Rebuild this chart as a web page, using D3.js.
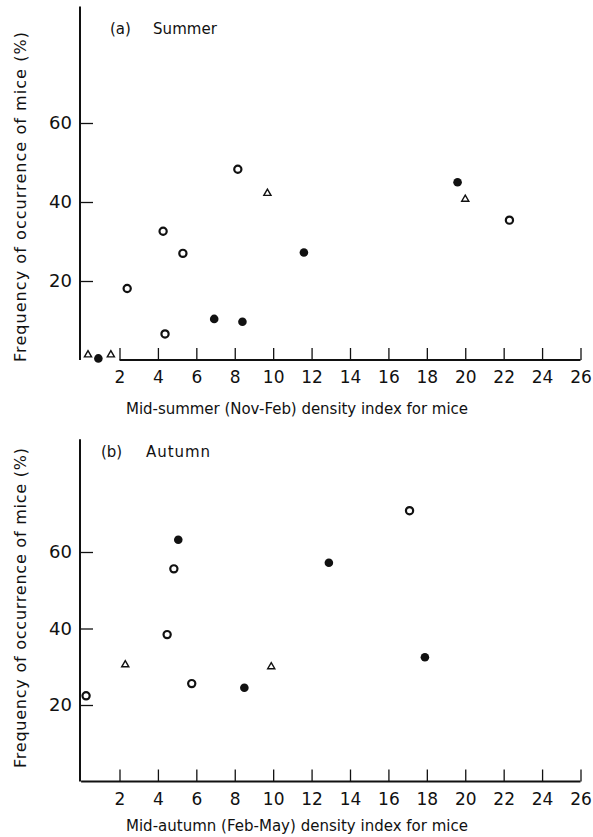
<!DOCTYPE html>
<html>
<head>
<meta charset="utf-8">
<script src="https://cdn.jsdelivr.net/npm/d3@7"></script>
<style>
  body { margin: 0; background: #fff; }
  svg text { font-family: "DejaVu Sans", "Liberation Sans", sans-serif; fill: #111; }
</style>
</head>
<body>
<svg id="chart" width="593" height="837"></svg>
<script>
// x ticks shared by both panels
const xTicks = [2, 4, 6, 8, 10, 12, 14, 16, 18, 20, 22, 24, 26];
const yTicks = [20, 40, 60];

// (a) Summer  [density index, frequency %]
const summerOpen   = [[2.4, 18.1], [4.27, 32.6], [4.37, 6.6], [5.3, 27.0], [8.16, 48.3], [22.3, 35.4]];
const summerFilled = [[0.9, 0.4], [6.93, 10.4], [8.4, 9.7], [11.6, 27.2], [19.6, 45.0]];
const summerTri    = [[0.36, 0.8], [1.55, 0.8], [9.7, 41.7], [20.0, 40.2]];

// (b) Autumn
const autumnOpen   = [[0.26, 22.4], [4.48, 38.4], [4.83, 55.6], [5.76, 25.6], [17.1, 70.8]];
const autumnFilled = [[5.06, 63.2], [8.5, 24.5], [12.9, 57.2], [17.9, 32.5]];
const autumnTri    = [[2.3, 30.0], [9.9, 29.5]];

const panels = [
    { tag: '(a)', title: 'Summer', xlabel: 'Mid-summer (Nov-Feb) density index for mice',
      open: summerOpen, filled: summerFilled, tri: summerTri,
      y0: 360, y60: 123, xStart: 2, tagX: 110, titleX: 153, titleY: 34, xlabY: 414, ylabC: 197, ylabW: 330 },
    { tag: '(b)', title: 'Autumn', xlabel: 'Mid-autumn (Feb-May) density index for mice',
      open: autumnOpen, filled: autumnFilled, tri: autumnTri,
      y0: 781.5, y60: 552, xStart: 0, tagX: 101, titleX: 146, titleY: 457, xlabY: 831, ylabC: 608, ylabW: 320 }
];

const svg = d3.select('#chart');

const x = d3.scaleLinear().domain([2, 26]).range([119.5, 580.5]);

panels.forEach(p => {
    const y = d3.scaleLinear().domain([0, 60]).range([p.y0, p.y60]);
    const g = svg.append('g');

    // y axis
    g.append('line')
        .attr('x1', 80).attr('x2', 80)
        .attr('y1', y(0)).attr('y2', y(89.5))
        .attr('stroke', '#111').attr('stroke-width', 2);

    let yAxis = g.append('g')
        .attr('transform', 'translate(80,0)')
        .call(d3.axisLeft(y).tickValues(yTicks).tickSizeInner(-13).tickSizeOuter(0).tickPadding(8));
    yAxis.select('.domain').remove();
    yAxis.selectAll('line').attr('stroke', '#111').attr('stroke-width', 1.3);
    yAxis.selectAll('text').style('font-size', '18px').attr('font-family', null);

    // x axis
    g.append('line')
        .attr('x1', x(p.xStart)).attr('x2', x(26))
        .attr('y1', y(0)).attr('y2', y(0))
        .attr('stroke', '#111').attr('stroke-width', 2);

    let xAxis = g.append('g')
        .attr('transform', `translate(0,${y(0)})`)
        .call(d3.axisBottom(x).tickValues(xTicks).tickSizeInner(-12).tickSizeOuter(0).tickPadding(11));
    xAxis.select('.domain').remove();
    xAxis.selectAll('line').attr('stroke', '#111').attr('stroke-width', 1.3);
    xAxis.selectAll('text').style('font-size', '17px').attr('font-family', null);

    // labels
    g.append('text')
        .attr('x', p.tagX).attr('y', p.titleY)
        .style('font-size', '15px')
        .text(p.tag);

    g.append('text')
        .attr('x', p.titleX).attr('y', p.titleY)
        .style('font-size', '15px')
        .attr('textLength', 64)
        .text(p.title);

    g.append('text')
        .attr('x', 297).attr('y', p.xlabY)
        .attr('text-anchor', 'middle')
        .style('font-size', '15px')
        .attr('textLength', 342)
        .text(p.xlabel);

    g.append('text')
        .attr('transform', `translate(26,${p.ylabC}) rotate(-90)`)
        .attr('text-anchor', 'middle')
        .style('font-size', '16px')
        .attr('textLength', p.ylabW)
        .text('Frequency of occurrence of mice  (%)');

    // markers
    g.selectAll('circle.open').data(p.open).join('circle')
        .attr('class', 'open')
        .attr('cx', d => x(d[0])).attr('cy', d => y(d[1]))
        .attr('r', 3.6)
        .attr('fill', '#fff').attr('stroke', '#111').attr('stroke-width', 2.2);

    g.selectAll('circle.filled').data(p.filled).join('circle')
        .attr('class', 'filled')
        .attr('cx', d => x(d[0])).attr('cy', d => y(d[1]))
        .attr('r', 4.3)
        .attr('fill', '#111');

    const tri = d3.symbol().type(d3.symbolTriangle).size(22);
    g.selectAll('path.tri').data(p.tri).join('path')
        .attr('class', 'tri')
        .attr('d', tri)
        .attr('transform', d => `translate(${x(d[0])},${y(d[1]) - 2})`)
        .attr('fill', '#fff').attr('stroke', '#111').attr('stroke-width', 1.4);
});
</script>
</body>
</html>
